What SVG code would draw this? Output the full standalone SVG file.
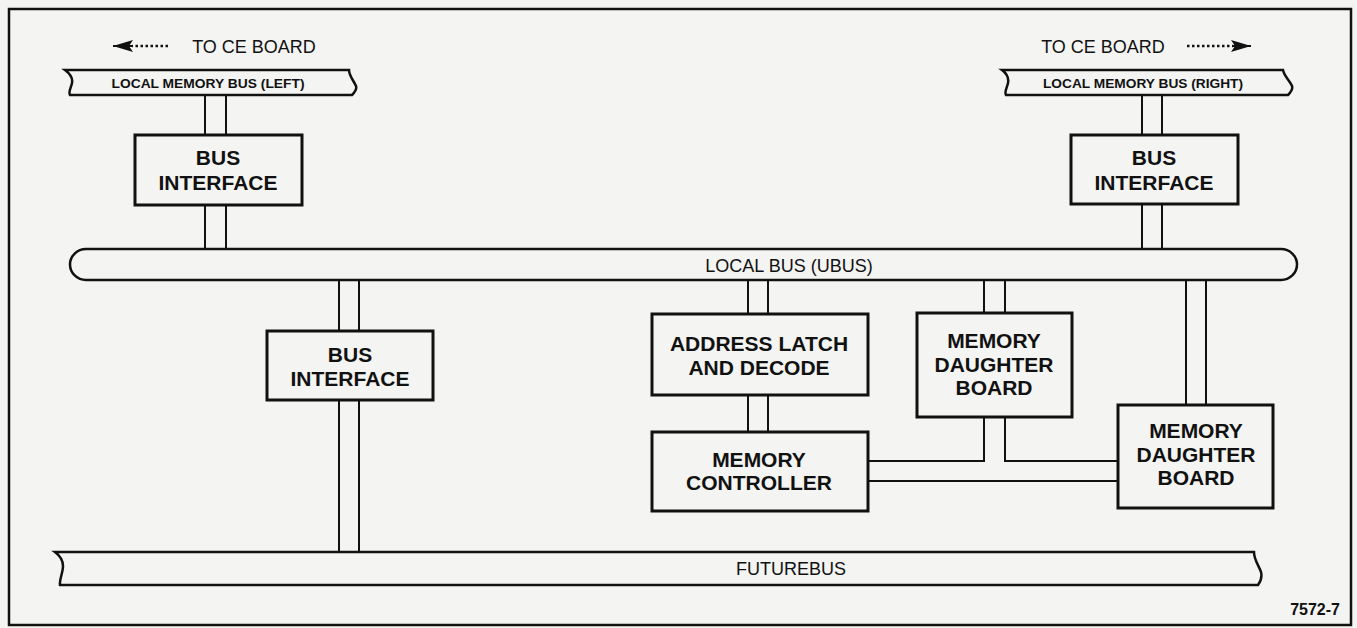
<svg xmlns="http://www.w3.org/2000/svg" width="1357" height="628" viewBox="0 0 1357 628">
<defs>
<style>
.bg{fill:#f4f4f3}
.frame{fill:none;stroke:#111;stroke-width:2.5}
.box{fill:#f4f4f3;stroke:#111;stroke-width:3}
.bus{fill:#f4f4f3;stroke:#111;stroke-width:2.5}
.conn{stroke:#111;stroke-width:2;fill:none}
.dots{stroke:#111;stroke-width:2.5;stroke-dasharray:2.5 2.5;fill:none}
.lbl{font-family:"Liberation Sans",Arial,sans-serif;font-weight:bold;font-size:21px;fill:#111;text-anchor:middle}
.bl{font-family:"Liberation Sans",Arial,sans-serif;font-size:18px;fill:#111;text-anchor:middle}
.sm{font-family:"Liberation Sans",Arial,sans-serif;font-weight:bold;font-size:13px;fill:#111;text-anchor:middle}
</style>
<marker id="ah" viewBox="0 0 20 12" refX="20" refY="6" markerWidth="20" markerHeight="12" markerUnits="userSpaceOnUse" orient="auto">
<path d="M0,0 L20,6 L0,12 L4,6 Z" fill="#111"/>
</marker>
</defs>
<rect class="bg" x="0" y="0" width="1357" height="628"/>
<rect class="frame" x="9" y="9" width="1342" height="616"/>

<g id="connectors">
<line class="conn" x1="205" y1="95" x2="205" y2="135"/>
<line class="conn" x1="226" y1="95" x2="226" y2="135"/>
<line class="conn" x1="205" y1="205" x2="205" y2="249"/>
<line class="conn" x1="226" y1="205" x2="226" y2="249"/>
<line class="conn" x1="1142" y1="95" x2="1142" y2="135"/>
<line class="conn" x1="1162" y1="95" x2="1162" y2="135"/>
<line class="conn" x1="1142" y1="204" x2="1142" y2="249"/>
<line class="conn" x1="1162" y1="204" x2="1162" y2="249"/>
<line class="conn" x1="339" y1="281" x2="339" y2="552"/>
<line class="conn" x1="359" y1="281" x2="359" y2="552"/>
<line class="conn" x1="748" y1="281" x2="748" y2="431"/>
<line class="conn" x1="768" y1="281" x2="768" y2="431"/>
<line class="conn" x1="984" y1="281" x2="984" y2="313"/>
<line class="conn" x1="1005" y1="281" x2="1005" y2="313"/>
<polyline class="conn" points="868,461 984,461 984,417"/>
<polyline class="conn" points="1005,417 1005,461 1118,461"/>
<line class="conn" x1="868" y1="481" x2="1118" y2="481"/>
<line class="conn" x1="1186" y1="281" x2="1186" y2="405"/>
<line class="conn" x1="1206" y1="281" x2="1206" y2="405"/>
<line class="dots" x1="168" y1="46" x2="132" y2="46"/>
<line x1="133" y1="46" x2="113" y2="46" stroke="#111" stroke-width="2" marker-end="url(#ah)"/>
<line class="dots" x1="1187" y1="46" x2="1233" y2="46"/>
<line x1="1232" y1="46" x2="1251" y2="46" stroke="#111" stroke-width="2" marker-end="url(#ah)"/>
</g>

<g id="to-ce-left"><text class="bl" x="254" y="53">TO CE BOARD</text></g>
<g id="to-ce-right"><text class="bl" x="1103" y="53">TO CE BOARD</text></g>

<g id="local-memory-bus-left">
<path class="bus" d="M65,70 C69,73 73,78 72,83 C71,88 68,92 70,95 L352,95 C355,92 357,89 356,86 C354,81 349,76 349,70 Z"/>
<text class="sm" x="208" y="88" textLength="193" lengthAdjust="spacingAndGlyphs">LOCAL MEMORY BUS (LEFT)</text>
</g>
<g id="local-memory-bus-right">
<path class="bus" d="M1002,70 C1006,73 1009,78 1008,83 C1007,88 1004,92 1006,95 L1288,95 C1291,92 1293,89 1292,86 C1290,81 1284,76 1283,70 Z"/>
<text class="sm" x="1143" y="88" textLength="200" lengthAdjust="spacingAndGlyphs">LOCAL MEMORY BUS (RIGHT)</text>
</g>

<g id="bus-interface-left">
<rect class="box" x="135" y="135" width="167" height="70"/>
<text class="lbl" x="218" y="165">BUS</text>
<text class="lbl" x="218" y="190">INTERFACE</text>
</g>
<g id="bus-interface-right">
<rect class="box" x="1071" y="135" width="167" height="69"/>
<text class="lbl" x="1154" y="165">BUS</text>
<text class="lbl" x="1154" y="190">INTERFACE</text>
</g>

<g id="local-bus">
<rect class="bus" x="70" y="249" width="1227" height="31" rx="16" ry="15.5"/>
<text class="bl" x="789" y="272">LOCAL BUS (UBUS)</text>
</g>

<g id="bus-interface-mid">
<rect class="box" x="267" y="331" width="166" height="69"/>
<text class="lbl" x="350" y="362">BUS</text>
<text class="lbl" x="350" y="386">INTERFACE</text>
</g>

<g id="address-latch">
<rect class="box" x="652" y="314" width="216" height="81"/>
<text class="lbl" x="759" y="351">ADDRESS LATCH</text>
<text class="lbl" x="759" y="375">AND DECODE</text>
</g>

<g id="memory-controller">
<rect class="box" x="652" y="432" width="216" height="79"/>
<text class="lbl" x="759" y="467">MEMORY</text>
<text class="lbl" x="759" y="490">CONTROLLER</text>
</g>

<g id="memory-daughter-board-1">
<rect class="box" x="917" y="313" width="155" height="104"/>
<text class="lbl" x="994" y="348">MEMORY</text>
<text class="lbl" x="994" y="372">DAUGHTER</text>
<text class="lbl" x="994" y="395">BOARD</text>
</g>

<g id="memory-daughter-board-2">
<rect class="box" x="1118" y="405" width="155" height="103"/>
<text class="lbl" x="1196" y="438">MEMORY</text>
<text class="lbl" x="1196" y="462">DAUGHTER</text>
<text class="lbl" x="1196" y="485">BOARD</text>
</g>

<g id="futurebus">
<path class="bus" d="M55,552 C59,555 63,560 63,566 C63,573 59,580 60,585 L1258,585 C1261,581 1262,576 1261,572 C1259,566 1254,560 1254,552 Z"/>
<text class="bl" x="791" y="575">FUTUREBUS</text>
</g>

<g id="fig-number"><text x="1340" y="615" font-family="Liberation Sans,Arial,sans-serif" font-weight="bold" font-size="16" fill="#111" text-anchor="end">7572-7</text></g>
</svg>
